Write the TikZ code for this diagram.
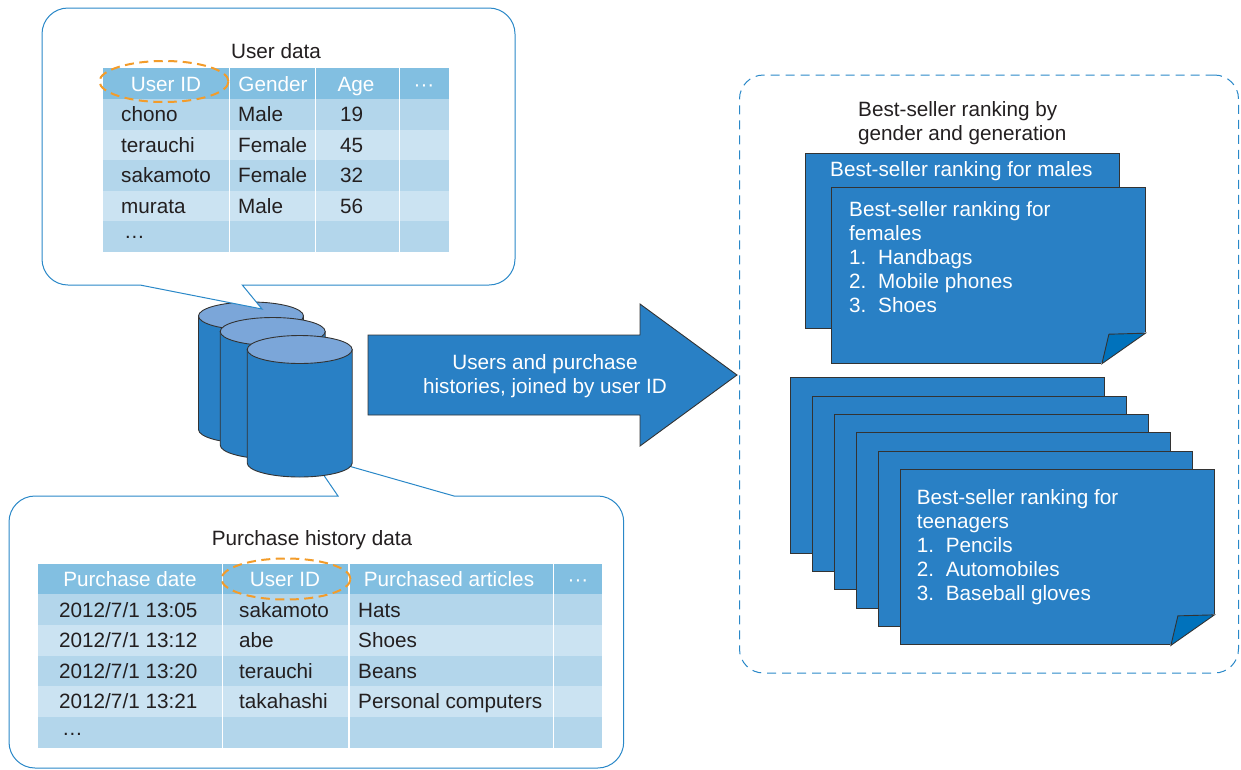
\documentclass[tikz,border=0pt]{standalone}
\usepackage{fontspec}
\setmainfont{Liberation Sans}
\usetikzlibrary{calc,shapes.geometric}
\definecolor{docblue}{HTML}{2980C5}
\definecolor{foldblue}{HTML}{0072BC}
\definecolor{topblue}{HTML}{7BA6D9}
\definecolor{linkblue}{HTML}{2A88C8}
\definecolor{hdrblue}{HTML}{82BFE1}
\definecolor{rowdark}{HTML}{B3D6EB}
\definecolor{rowlight}{HTML}{CBE3F2}
\definecolor{inkgray}{HTML}{333333}
\definecolor{txtgray}{HTML}{231F20}
\definecolor{ovalorange}{HTML}{F39C2A}
\newcommand{\foldcorner}[1]{
 \filldraw[white,line width=2pt,line join=round] ($(#1.south east)+(-43.5,0)$) -- (#1.south east) -- ($(#1.south east)+(0,-30.5)$) -- cycle;
 \draw[doc,fill=foldblue] ($(#1.south east)+(-43.5,0)$) -- ($(#1.south east)+(-36.5,-29.5)$) -- ($(#1.south east)+(0,-30.5)$) -- cycle;
}
\newcommand{\dbdrum}[1]{
 \draw[doc] ($(#1)+(-52.5,0)$) -- ++(0,113.5) arc[start angle=180,end angle=0,x radius=52.5,y radius=14] -- ++(0,-113.5) -- cycle;
 \draw[doc,fill=topblue] (#1) ellipse [x radius=52.5,y radius=14];
}
\tikzset{
 txt/.style={font=\fontsize{20.7}{24}\selectfont,text=txtgray,inner sep=0pt},
 hdr/.style={txt,text=white},
 doc/.style={draw=inkgray,line width=0.9pt,fill=docblue},
 docbox/.style={doc,rectangle,anchor=north west,minimum width=313.5,minimum height=175.5,inner sep=0pt},
 doctxt/.style={txt,text=white,align=left,anchor=north west},
 band/.style={rectangle,anchor=north west,inner sep=0pt,minimum height=#1},
 bubble/.style={draw=linkblue,line width=1pt,fill=white},
 oval/.style={ellipse,draw=ovalorange,line width=2pt,dash pattern=on 9pt off 5.5pt,inner sep=0pt,minimum width=129,minimum height=41},
 rule/.style={white,line width=1.2pt}
}
\begin{document}
\begin{tikzpicture}[x=1pt,y=-1pt]
 \useasboundingbox (0,0) rectangle (1241,769);

 % database
 \coordinate (db_a) at (251,316);
 \coordinate (db_b) at (272.7,331.5);
 \coordinate (db_c) at (299.7,349.5);
 \dbdrum{db_a}
 \draw[bubble] (140,285) [rounded corners=26] -- (42,285) -- (42,8) -- (515,8) -- (515,285) [sharp corners] -- (242.3,285) -- (262,309) -- cycle;
 \dbdrum{db_b}
 \draw[bubble] (338,496) [rounded corners=26] -- (9,496) -- (9,768) -- (623.7,768) -- (623.7,496) [sharp corners] -- (454,496) -- (310,455) -- cycle;
 \dbdrum{db_c}

 % user table
 \node[txt,anchor=base] (user_title) at (276,58) {User data};
 \node[band=31,fill=hdrblue,minimum width=346] (user_hdr) at (103,68) {};
 \foreach \y/\h/\c [count=\i] in {99/30.5/rowdark,129.5/30.5/rowlight,160/31/rowdark,191/30/rowlight,221/31/rowdark}
  \node[band=\h,fill=\c,minimum width=346] (user_row\i) at (103,\y) {};
 \foreach \x in {229.5,315.5,399.5}
  \draw[rule] (\x,68) -- (\x,252);
 \foreach \x/\t in {166/User ID,273/Gender,356/Age,424/{···}}
  \node[hdr,anchor=base] (user_h\x) at (\x,91) {\t};
 \foreach \y/\a/\b/\c in {121.5/chono/Male/19,152.5/terauchi/Female/45,182.5/sakamoto/Female/32,213/murata/Male/56}{
  \node[txt,anchor=base west] (user_a\y) at (121,\y) {\a};
  \node[txt,anchor=base west] (user_b\y) at (238,\y) {\b};
  \node[txt,anchor=base west] (user_c\y) at (340,\y) {\c};
 }
 \node[txt,anchor=base west] (user_more) at (124,238) {…};
 \node[oval] (user_oval) at (164,81.5) {};

 % purchase table
 \node[txt,anchor=base] (buy_title) at (312,545) {Purchase history data};
 \node[band=30,fill=hdrblue,minimum width=564] (buy_hdr) at (38,564) {};
 \foreach \y/\h/\c [count=\i] in {594/31/rowdark,625/31/rowlight,656/30/rowdark,686/31/rowlight,717/31/rowdark}
  \node[band=\h,fill=\c,minimum width=564] (buy_row\i) at (38,\y) {};
 \foreach \x in {222.5,349,553.5}
  \draw[rule] (\x,564) -- (\x,748);
 \foreach \x/\t in {130/Purchase date,285/User ID,449/Purchased articles,578/{···}}
  \node[hdr,anchor=base] (buy_h\x) at (\x,586) {\t};
 \foreach \y/\a/\b/\c in {617.5/13:05/sakamoto/Hats,647.5/13:12/abe/Shoes,678.5/13:20/terauchi/Beans,708.5/13:21/takahashi/Personal computers}{
  \node[txt,anchor=base west] (buy_a\y) at (59,\y) {2012/7/1 \a};
  \node[txt,anchor=base west] (buy_b\y) at (239,\y) {\b};
  \node[txt,anchor=base west] (buy_c\y) at (358,\y) {\c};
 }
 \node[txt,anchor=base west] (buy_more) at (62,735) {…};
 \node[oval] (buy_oval) at (286,579) {};

 % join arrow
 \draw[doc] (368,335) -- (640,335) -- (640,304) -- (737,375) -- (640,446) -- (640,415) -- (368,415) -- cycle;
 \node[txt,text=white,align=center] (join_txt) at (545,376.5) {Users and purchase\\histories, joined by user ID};

 % result area
 \node[rectangle,draw=linkblue,line width=1pt,dash pattern=on 9pt off 6pt,rounded corners=24,minimum width=499,minimum height=598] (area) at (989,374) {};
 \node[txt,align=left,anchor=north west] (area_title) at (858,101) {Best-seller ranking by\\gender and generation};

 \node[docbox] (doc_male) at (805,152.7) {};
 \node[doctxt] at (830,161) {Best-seller ranking for males};
 \node[docbox] (doc_female) at (831,187.3) {};
 \foldcorner{doc_female}
 \node[doctxt] (female_txt) at (849,201.5) {Best-seller ranking for\\females\\\makebox[29pt][l]{1.}Handbags\\\makebox[29pt][l]{2.}Mobile phones\\\makebox[29pt][l]{3.}Shoes};

 \foreach \i in {0,...,5}
  \node[docbox] (doc_age\i) at ({790+22*\i},{377.3+18.33*\i}) {};
 \foldcorner{doc_age5}
 \node[doctxt] (teen_txt) at (916.7,489) {Best-seller ranking for\\teenagers\\\makebox[29pt][l]{1.}Pencils\\\makebox[29pt][l]{2.}Automobiles\\\makebox[29pt][l]{3.}Baseball gloves};
\end{tikzpicture}
\end{document}
